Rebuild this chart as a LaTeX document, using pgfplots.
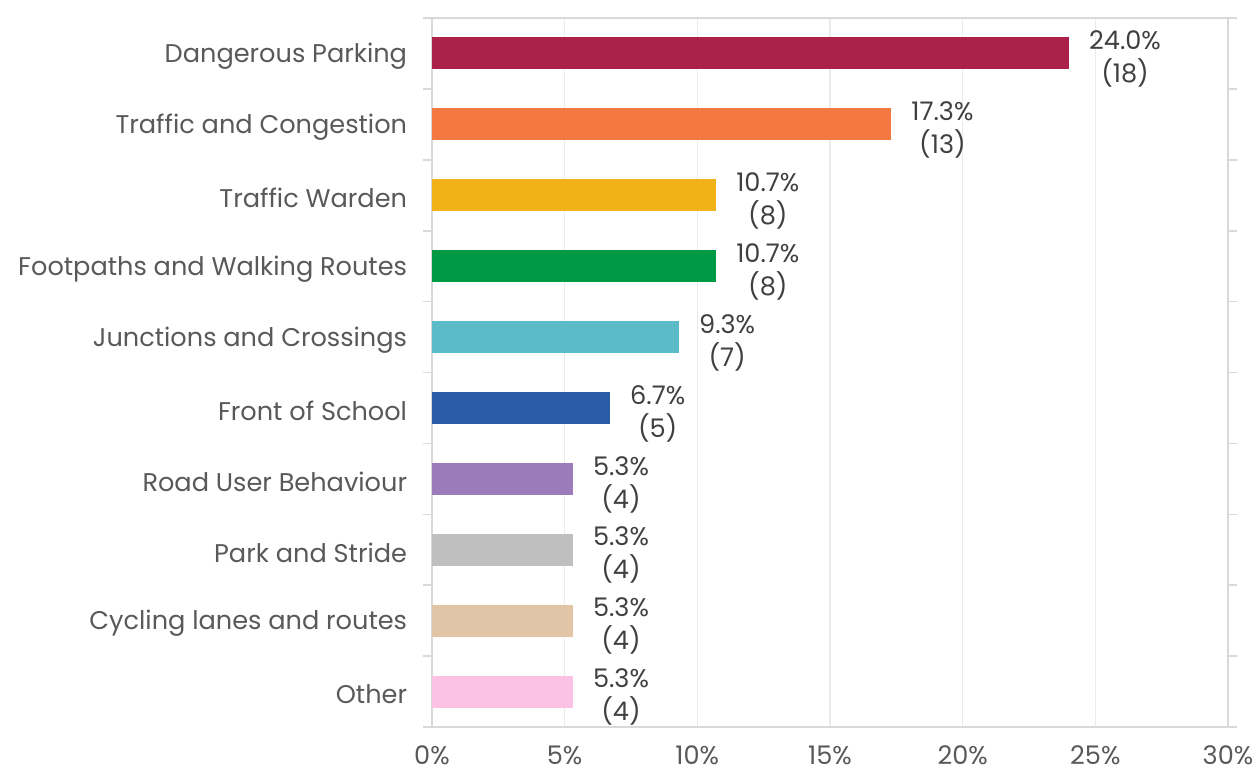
\documentclass[border=0pt]{standalone}
\usepackage{pgfplots}
\pgfplotsset{compat=1.18}
\usepackage{fontspec}
\setmainfont{Poppins}
\definecolor{cDP}{HTML}{AA2149}
\definecolor{cTC}{HTML}{F37841}
\definecolor{cTW}{HTML}{F1B119}
\definecolor{cFP}{HTML}{009A44}
\definecolor{cJC}{HTML}{5CBBC9}
\definecolor{cFS}{HTML}{2B5CA8}
\definecolor{cRU}{HTML}{9C7BBB}
\definecolor{cPS}{HTML}{BFBFBF}
\definecolor{cCL}{HTML}{E2C4A6}
\definecolor{cOT}{HTML}{FBC2E6}
\definecolor{txt}{HTML}{595959}
\definecolor{lbl}{HTML}{404040}
\definecolor{axl}{HTML}{D9D9D9}
\definecolor{grd}{HTML}{EBEBEB}
\begin{document}
\begin{tikzpicture}
\begin{axis}[
  scale only axis,
  width=398pt, height=354.5pt,
  xbar, bar width=16pt, bar shift=0pt,
  xmin=0, xmax=30, ymin=-0.5, ymax=9.5,
  xtick={0,5,...,30},
  xticklabel={\pgfmathprintnumber{\tick}\%},
  /pgf/number format/assume math mode=true,
  xmajorgrids, major grid style={grd, line width=0.8pt},
  major x tick style={draw=none},
  ytick={0,...,9},
  yticklabels={Other, Cycling lanes and routes, Park and Stride, Road User Behaviour, Front of School, Junctions and Crossings, Footpaths and Walking Routes, Traffic Warden, Traffic and Congestion, Dangerous Parking},
  major y tick style={draw=none},
  minor ytick={-0.5,0.5,...,9.5},
  minor y tick style={axl, line width=0.8pt},
  minor tick length=4.5pt,
  tick align=outside,
  axis line style={axl, line width=0.8pt},
  tick label style={font=\fontsize{12.8}{15}\selectfont, text=txt},
  y tick label style={inner sep=0pt, xshift=-8pt, yshift=-1.5pt},
  x tick label style={inner sep=0pt, yshift=-5pt, text depth=0pt},
  nodes near coords={\pgfmathprintnumber[fixed,fixed zerofill,precision=1]{\pgfplotspointmeta}\%\\(\cnt)},
  visualization depends on={value \thisrow{n}\as\cnt},
  every node near coord/.append style={align=center, anchor=west, inner sep=0pt, xshift=10pt, yshift=-2.8pt, font=\fontsize{12.8}{16.5}\selectfont, text=lbl},
  clip=false,
]
\addplot[fill=cDP, draw=none] table[row sep=\\] {pct pos n\\ 24.0 9 18\\};
\addplot[fill=cTC, draw=none] table[row sep=\\] {pct pos n\\ 17.3 8 13\\};
\addplot[fill=cTW, draw=none] table[row sep=\\] {pct pos n\\ 10.7 7 8\\};
\addplot[fill=cFP, draw=none] table[row sep=\\] {pct pos n\\ 10.7 6 8\\};
\addplot[fill=cJC, draw=none] table[row sep=\\] {pct pos n\\ 9.3 5 7\\};
\addplot[fill=cFS, draw=none] table[row sep=\\] {pct pos n\\ 6.7 4 5\\};
\addplot[fill=cRU, draw=none] table[row sep=\\] {pct pos n\\ 5.3 3 4\\};
\addplot[fill=cPS, draw=none] table[row sep=\\] {pct pos n\\ 5.3 2 4\\};
\addplot[fill=cCL, draw=none] table[row sep=\\] {pct pos n\\ 5.3 1 4\\};
\addplot[fill=cOT, draw=none] table[row sep=\\] {pct pos n\\ 5.3 0 4\\};
\end{axis}
\path[use as bounding box] ([xshift=-216pt,yshift=-22.5pt]current axis.south west) rectangle ([xshift=15pt,yshift=9pt]current axis.north east);
\end{tikzpicture}
\end{document}
